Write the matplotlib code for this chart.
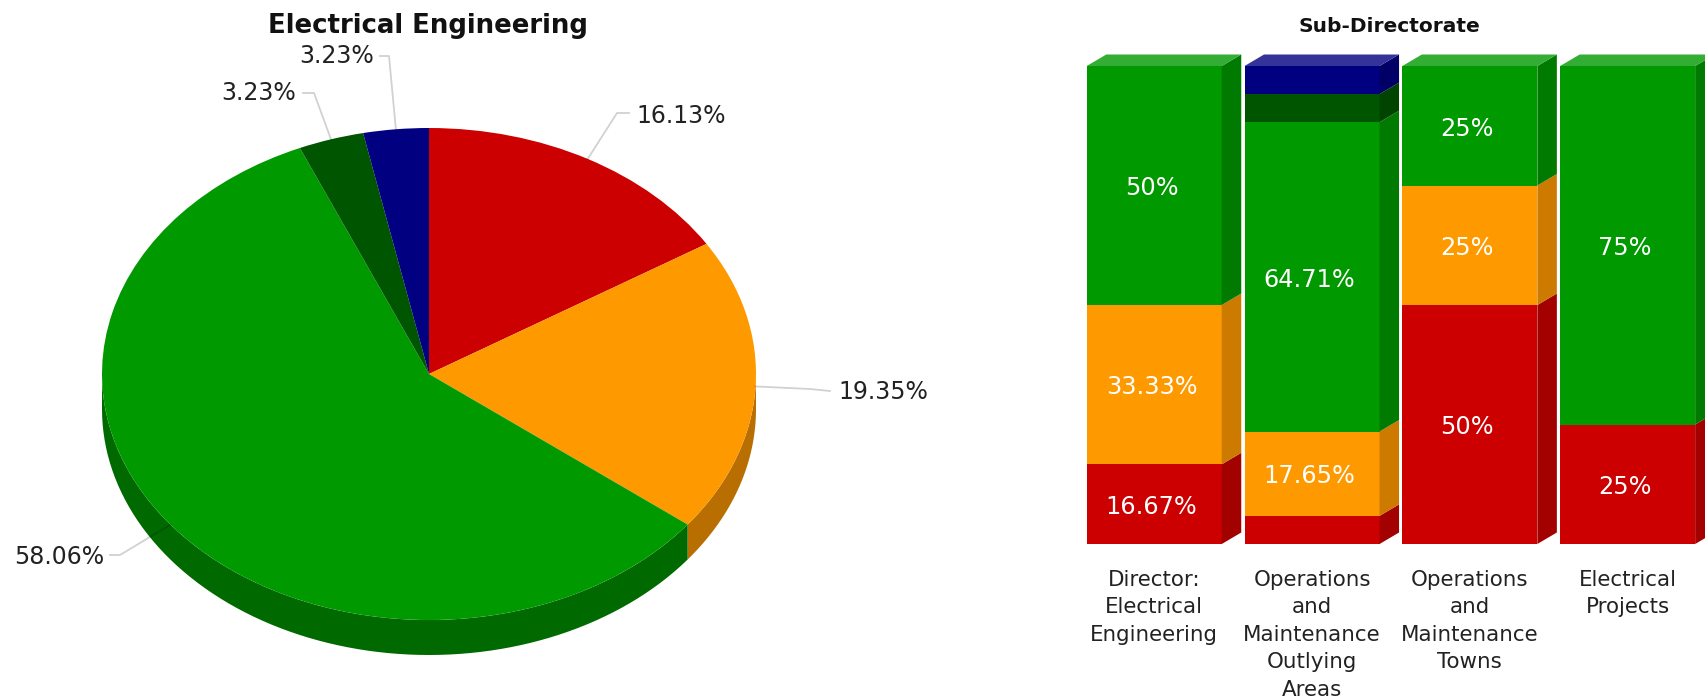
import numpy as np
import matplotlib
matplotlib.use("Agg")
import matplotlib.pyplot as plt
from matplotlib.patches import Polygon

W, H = 1706, 698

pie_title = "Electrical Engineering"
pie_values = [16.13, 19.35, 58.06, 3.23, 3.23]
pie_colors = ["#cc0000", "#ff9900", "#009900", "#005500", "#000080"]
pie_sides = ["#a30000", "#b86e00", "#006a00", "#004400", "#000066"]
# label position (px) and elbow of the leader line (px), one per slice
pie_label_xy = [(636, 116), (838, 392), (14, 557), (221, 93), (299, 56)]
pie_elbow = [(617, 113), (810, 389), (120, 555), (314, 93), (389, 56)]
pie_tail = [(629, 113), (830, 391), (110, 555), (303, 93), (380, 56)]

bar_title = "Sub-Directorate"
bar_categories = ["Director:\nElectrical\nEngineering",
                  "Operations\nand\nMaintenance\nOutlying\nAreas",
                  "Operations\nand\nMaintenance\nTowns",
                  "Electrical\nProjects"]
red_values = [16.67, 5.88, 50, 25]
orange_values = [33.33, 17.65, 25, 0]
green_values = [50, 64.71, 25, 75]
dark_green_values = [0, 5.88, 0, 0]
navy_values = [0, 5.88, 0, 0]
bar_series = [
    (red_values, "#cc0000", "#a30000", "#d63333"),
    (orange_values, "#ff9900", "#cc7a00", "#ffad33"),
    (green_values, "#009900", "#007a00", "#33ad33"),
    (dark_green_values, "#005500", "#004400", "#337733"),
    (navy_values, "#000080", "#000066", "#333399"),
]
hidden_labels = {5.88}

plt.rcParams["font.family"] = ["DejaVu Sans"]
fig = plt.figure(figsize=(W / 100, H / 100), dpi=100)


def px_text(x, y, s, **kw):
    return fig.text(x / W, 1 - y / H, s, va=kw.pop("va", "center"), **kw)


# --- pie with an extruded rim ---
cx, cy, rx, ry, depth = 429, 374, 327, 246, 35
ax_pie = fig.add_axes([0, 0, 1, 1])
ax_pie.pie(pie_values, colors=pie_colors, startangle=90, counterclock=False,
           wedgeprops={"linewidth": 0})
ax_pie.set_aspect("auto")
ax_pie.set_xlim(-cx / rx, (W - cx) / rx)
ax_pie.set_ylim(-(H - cy) / ry, cy / ry)
ax_pie.set_zorder(1)

to_x = lambda px: (px - cx) / rx
to_y = lambda py: (cy - py) / ry

edges = np.cumsum([0] + pie_values) / sum(pie_values) * 360
dy = depth / ry
for a0, a1, c in zip(edges[:-1], edges[1:], pie_sides):
    lo, hi = max(a0, 90), min(a1, 270)
    if hi <= lo:
        continue
    t = np.radians(np.linspace(lo, hi, 80))
    xs, ys = np.sin(t), np.cos(t)
    pts = np.r_[np.c_[xs, ys], np.c_[xs[::-1], ys[::-1] - dy]]
    ax_pie.add_patch(Polygon(pts, closed=True, fc=c, ec="none", zorder=0.5))

# leader lines start on the rim at each slice's mid angle; they are translucent
# so they read as pale grey on white and as a darker shade across the rim
for i, v in enumerate(pie_values):
    mid = np.radians((edges[i] + edges[i + 1]) / 2)
    ax_pie.plot([np.sin(mid), to_x(pie_elbow[i][0]), to_x(pie_tail[i][0])],
                [np.cos(mid), to_y(pie_elbow[i][1]), to_y(pie_tail[i][1])],
                color="black", alpha=0.18, lw=1.3, zorder=3, clip_on=False)
    px_text(*pie_label_xy[i], f"{v}%", ha="left", fontsize=17,
            color="#222222")

px_text(428, 26, pie_title, ha="center", fontsize=18.7, fontweight="bold",
        color="#111111")

# --- stacked pseudo-3D bars ---
bar_left, step, bar_top, bar_bottom = 1075.35, 157.8, 66, 544
ax_bar = fig.add_axes([bar_left / W, 1 - bar_bottom / H,
                       4 * step / W, (bar_bottom - bar_top) / H])
ax_bar.set_xlim(-0.5, 3.5)
ax_bar.set_ylim(0, 100)
ax_bar.patch.set_alpha(0)
ax_bar.set_zorder(2)
for s in ax_bar.spines.values():
    s.set_visible(False)
ax_bar.set_yticks([])
ax_bar.set_xticks(range(len(bar_categories)))
ax_bar.set_xticklabels(bar_categories, fontsize=15.4, color="#222222",
                       linespacing=1.47)
ax_bar.tick_params(axis="x", length=0, pad=18.5)

bw = 0.8555
dx3, dy3 = 19.5 / step, 11.5 / (bar_bottom - bar_top) * 100
bottoms = np.zeros(len(bar_categories))
x = np.arange(len(bar_categories))
for values, front, side, top in bar_series:
    values = np.asarray(values, float)
    ax_bar.bar(x, values, bw, bottom=bottoms, color=front, linewidth=0)
    for i in x:
        if values[i] <= 0:
            continue
        b, t = bottoms[i], bottoms[i] + values[i]
        r = i + bw / 2
        ax_bar.add_patch(Polygon([(r, b), (r + dx3, b + dy3), (r + dx3, t + dy3), (r, t)],
                                 fc=side, ec="none", clip_on=False))
        if values[i] not in hidden_labels:
            ax_bar.annotate(f"{values[i]:g}%", (i, (b + t) / 2), xytext=(-2, -2),
                            textcoords="offset points", ha="center", va="center",
                            color="white", fontsize=17.3)
    bottoms = bottoms + values

# the roof takes the colour of the highest non-empty segment
for i in x:
    for values, front, side, top in reversed(bar_series):
        if values[i] > 0:
            l, r = i - bw / 2, i + bw / 2
            ax_bar.add_patch(Polygon([(l, 100), (r, 100), (r + dx3, 100 + dy3), (l + dx3, 100 + dy3)],
                                     fc=top, ec="none", clip_on=False))
            break

px_text(1389, 27, bar_title, ha="center", fontsize=14.5, fontweight="bold",
        color="#111111")

fig.savefig("out.png", dpi=100, facecolor="white")
